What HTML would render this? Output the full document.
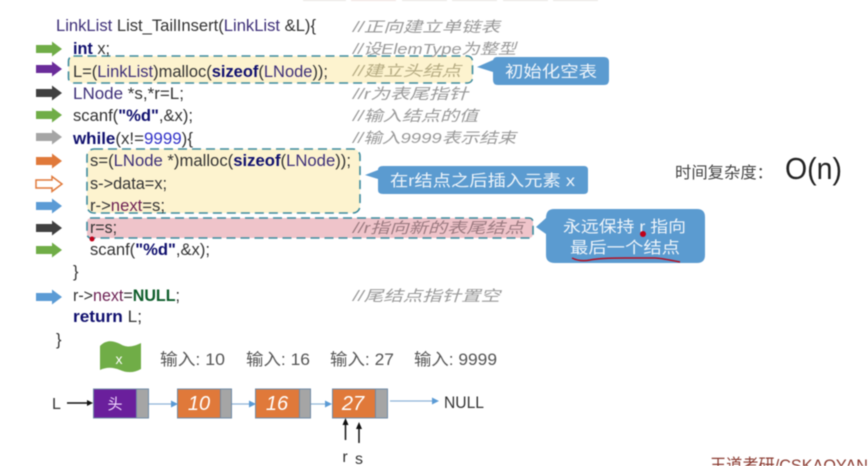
<!DOCTYPE html>
<html><head><meta charset="utf-8">
<style>
html,body{margin:0;padding:0;background:#fff;width:868px;height:466px;overflow:hidden}
svg{display:block;filter:blur(.5px)}
text{font-family:"Liberation Sans","Noto Sans CJK SC",sans-serif}
.c{font-size:16.500px;fill:#333}
.k{fill:#10106e;font-weight:bold}
.t{fill:#3d2f78}
.m{fill:#6b1f52}
.n{fill:#3232c8}
.g{fill:#0d5c2a;font-weight:bold}
.cm{font-size:15px;fill:#999;font-style:italic}
.w{fill:#eef4fa;font-size:16px}
.i{font-size:16.500px;fill:#555}
.nd{font-size:20px;fill:#fff;font-style:italic}
</style></head><body>
<svg width="868" height="466" viewBox="0 0 868 466" xmlns="http://www.w3.org/2000/svg">
<defs>
<path id="ar" d="M0,-4 H16 V-7.500 L26,0 L16,7.500 V4 H0 Z"/>
</defs>
<rect x="303" y="-3" width="43" height="4" fill="#e8e4e0"/>
<rect x="351" y="-3" width="45" height="4" fill="#eee0de"/>
<rect x="402" y="-3" width="45" height="4" fill="#e8e4e0"/>
<rect x="452" y="-3" width="45" height="4" fill="#e8e4e0"/>
<rect x="503" y="-3" width="45" height="4" fill="#e8e4e0"/>
<rect x="553" y="-3" width="45" height="4" fill="#e8e4e0"/>

<!-- highlights -->
<rect x="68.500" y="56" width="404" height="27" rx="5" fill="#fdf3cf" stroke="#3d8b9e" stroke-width="1.600" stroke-dasharray="9 5"/>
<rect x="87" y="149" width="273" height="64" rx="7" fill="#fdf3cf" stroke="#3d8b9e" stroke-width="1.600" stroke-dasharray="9 5"/>
<rect x="87" y="218" width="446" height="20" rx="4" fill="#efc4ca" stroke="#3d8b9e" stroke-width="1.600" stroke-dasharray="9 5"/>

<!-- arrows -->
<use href="#ar" x="36" y="49" fill="#70ad47"/>
<use href="#ar" x="36" y="69" fill="#6a2c9a"/>
<use href="#ar" x="36" y="93" fill="#404040"/>
<use href="#ar" x="36" y="115" fill="#70ad47"/>
<use href="#ar" x="36" y="137" fill="#a5a5a5"/>
<use href="#ar" x="36" y="161" fill="#e0793a"/>
<use href="#ar" x="36" y="184" fill="#fff" stroke="#e0793a" stroke-width="1.500"/>
<use href="#ar" x="36" y="206" fill="#5b9bd5"/>
<use href="#ar" x="36" y="228" fill="#404040"/>
<use href="#ar" x="36" y="250" fill="#70ad47"/>
<use href="#ar" x="36" y="297" fill="#5b9bd5"/>

<!-- code -->
<text class="c" x="56" y="31" textLength="260" lengthAdjust="spacingAndGlyphs"><tspan class="t">LinkList</tspan> List_TailInsert(<tspan class="t">LinkList</tspan> &amp;L){</text>
<text class="c" x="73" y="54" textLength="37" lengthAdjust="spacingAndGlyphs"><tspan class="k">int</tspan> x;</text>
<text class="c" x="73" y="77" textLength="255" lengthAdjust="spacingAndGlyphs">L=(<tspan class="t">LinkList</tspan>)malloc(<tspan class="k">sizeof</tspan>(<tspan class="t">LNode</tspan>));</text>
<text class="c" x="73" y="99" textLength="111" lengthAdjust="spacingAndGlyphs"><tspan class="t">LNode</tspan> *s,*r=L;</text>
<text class="c" x="73" y="121" textLength="120" lengthAdjust="spacingAndGlyphs">scanf(<tspan class="k">"%d"</tspan>,&amp;x);</text>
<text class="c" x="73" y="144" textLength="120" lengthAdjust="spacingAndGlyphs"><tspan class="k">while</tspan>(x!=<tspan class="n">9999</tspan>){</text>
<text class="c" x="90" y="166" textLength="261" lengthAdjust="spacingAndGlyphs">s=(<tspan class="t">LNode</tspan> *)malloc(<tspan class="k">sizeof</tspan>(<tspan class="t">LNode</tspan>));</text>
<text class="c" x="90" y="189" textLength="77" lengthAdjust="spacingAndGlyphs">s-&gt;data=x;</text>
<text class="c" x="90" y="211" textLength="75" lengthAdjust="spacingAndGlyphs">r-&gt;<tspan class="m">next</tspan>=s;</text>
<text class="c" x="90" y="233" textLength="27" lengthAdjust="spacingAndGlyphs">r=s;</text>
<text class="c" x="90" y="255" textLength="120" lengthAdjust="spacingAndGlyphs">scanf(<tspan class="k">"%d"</tspan>,&amp;x);</text>
<text class="c" x="73" y="277">}</text>
<text class="c" x="73" y="301" textLength="107" lengthAdjust="spacingAndGlyphs">r-&gt;<tspan class="m">next</tspan>=<tspan class="g">NULL</tspan>;</text>
<text class="c" x="73" y="322" textLength="69" lengthAdjust="spacingAndGlyphs"><tspan class="k">return</tspan>  L;</text>
<text class="c" x="56" y="345">}</text>

<!-- comments -->
<text class="cm" x="353" y="32" textLength="147" lengthAdjust="spacingAndGlyphs">//正向建立单链表</text>
<text class="cm" x="353" y="54" textLength="163" lengthAdjust="spacingAndGlyphs">//设ElemType为整型</text>
<text class="cm" x="353" y="76" textLength="108" lengthAdjust="spacingAndGlyphs" style="fill:#b5ab82">//建立头结点</text>
<text class="cm" x="353" y="99" textLength="115" lengthAdjust="spacingAndGlyphs">//r为表尾指针</text>
<text class="cm" x="353" y="121" textLength="125" lengthAdjust="spacingAndGlyphs">//输入结点的值</text>
<text class="cm" x="353" y="143" textLength="163" lengthAdjust="spacingAndGlyphs">//输入9999表示结束</text>
<text class="cm" x="353" y="233" textLength="171" lengthAdjust="spacingAndGlyphs" style="fill:#9a7a80">//r指向新的表尾结点</text>
<text class="cm" x="353" y="301" textLength="147" lengthAdjust="spacingAndGlyphs">//尾结点指针置空</text>

<!-- callouts -->
<path d="M497,57 H604 Q609,57 609,62 V80 Q609,85 604,85 H498 Q493,85 493,80 V72 L477,67 L493,60 Q494,57 497,57Z" fill="#5b9bd0"/>
<text class="w" x="551" y="77" text-anchor="middle" textLength="92" lengthAdjust="spacingAndGlyphs">初始化空表</text>
<path d="M383,166 H584 Q588,166 588,170 V190 Q588,194 584,194 H383 Q378,194 378,190 V179 L365,175 L378,170 Q378,166 383,166Z" fill="#5b9bd0"/>
<text class="w" x="390" y="186" textLength="185" lengthAdjust="spacingAndGlyphs">在r结点之后插入元素 x</text>
<path d="M554,209 H697 Q705,209 705,217 V255 Q705,263 697,263 H555 Q546,263 546,255 V234 L536,227 L546,218 Q546,209 554,209Z" fill="#5b9bd0"/>
<text class="w" x="563" y="232" textLength="123" lengthAdjust="spacingAndGlyphs">永远保持 r 指向</text>
<text class="w" x="570" y="253" textLength="110" lengthAdjust="spacingAndGlyphs">最后一个结点</text>
<path d="M572,258 Q580,262 590,260 T625,258 T655,258 T680,262" fill="none" stroke="#b50d20" stroke-width="1.500"/>
<circle cx="643" cy="234" r="3" fill="#c00018"/>
<circle cx="92" cy="239" r="2.500" fill="#c00018"/>

<!-- complexity -->
<text x="675" y="178" font-size="16" fill="#444" textLength="98" lengthAdjust="spacingAndGlyphs">时间复杂度：</text>
<text x="785" y="179" font-size="31" fill="#222" textLength="57" lengthAdjust="spacingAndGlyphs">O(n)</text>

<!-- flag -->
<path d="M100,346 C108,338 116,342 122,345 C128,348 135,346 141,343 V369 C134,373 127,373 120,370 C113,367 106,367 100,370 Z" fill="#70ad47"/>
<text x="119" y="364" text-anchor="middle" font-size="14" fill="#fff">x</text>

<!-- inputs -->
<text class="i" x="160" y="365" textLength="65" lengthAdjust="spacingAndGlyphs">输入: 10</text>
<text class="i" x="246" y="365" textLength="64" lengthAdjust="spacingAndGlyphs">输入: 16</text>
<text class="i" x="330" y="365" textLength="64" lengthAdjust="spacingAndGlyphs">输入: 27</text>
<text class="i" x="414" y="365" textLength="83" lengthAdjust="spacingAndGlyphs">输入: 9999</text>

<!-- list -->
<g stroke="#6f8aa6" stroke-width="1">
<rect x="93.500" y="389" width="43" height="29" fill="#6a1f9c"/><rect x="136.500" y="389" width="12" height="29" fill="#a5a5a5"/>
<rect x="177.500" y="389" width="43" height="29" fill="#e0793a"/><rect x="220.500" y="389" width="11" height="29" fill="#a5a5a5"/>
<rect x="255.500" y="389" width="44" height="29" fill="#e0793a"/><rect x="299.500" y="389" width="11" height="29" fill="#a5a5a5"/>
<rect x="332.500" y="389" width="43" height="29" fill="#e0793a"/><rect x="375.500" y="389" width="12" height="29" fill="#a5a5a5"/>
</g>
<text x="115" y="409" text-anchor="middle" font-size="15" fill="#f0d8ff">头</text>
<text class="nd" x="199" y="410" text-anchor="middle">10</text>
<text class="nd" x="277" y="410" text-anchor="middle">16</text>
<text class="nd" x="353" y="410" text-anchor="middle">27</text>

<g stroke="#8db4d8" stroke-width="1.200" fill="none">
<path d="M149,404 H172"/><path d="M232,404 H250"/><path d="M311,404 H327"/><path d="M390,401 H434"/>
</g>
<g fill="#5b9bd5">
<path d="M178,404 L171,400.500 V407.500Z"/><path d="M256,404 L249,400.500 V407.500Z"/><path d="M332,404 L325,400.500 V407.500Z"/><path d="M439,401 L432,397.500 V404.500Z"/>
</g>
<text x="444" y="408" font-size="17" fill="#333" textLength="40" lengthAdjust="spacingAndGlyphs">NULL</text>
<text x="52" y="409" font-size="16" fill="#333">L</text>

<g stroke="#111" stroke-width="1.500" fill="none">
<path d="M67,403 H88"/><path d="M345.500,440 V424"/><path d="M359,443 V428"/>
</g>
<g fill="#111">
<path d="M93,403 L87,400 V406Z"/><path d="M345.500,418 L342.500,425 H348.500Z"/><path d="M359,422 L356,429 H362Z"/>
</g>
<text x="345" y="462" font-size="16" fill="#333" text-anchor="middle">r</text>
<text x="359" y="464" font-size="16" fill="#333" text-anchor="middle">s</text>

<!-- watermark -->
<text x="710" y="471" font-size="17" fill="#8a3a30" textLength="158" lengthAdjust="spacingAndGlyphs">王道考研/CSKAOYAN</text>
</svg>
</body></html>
